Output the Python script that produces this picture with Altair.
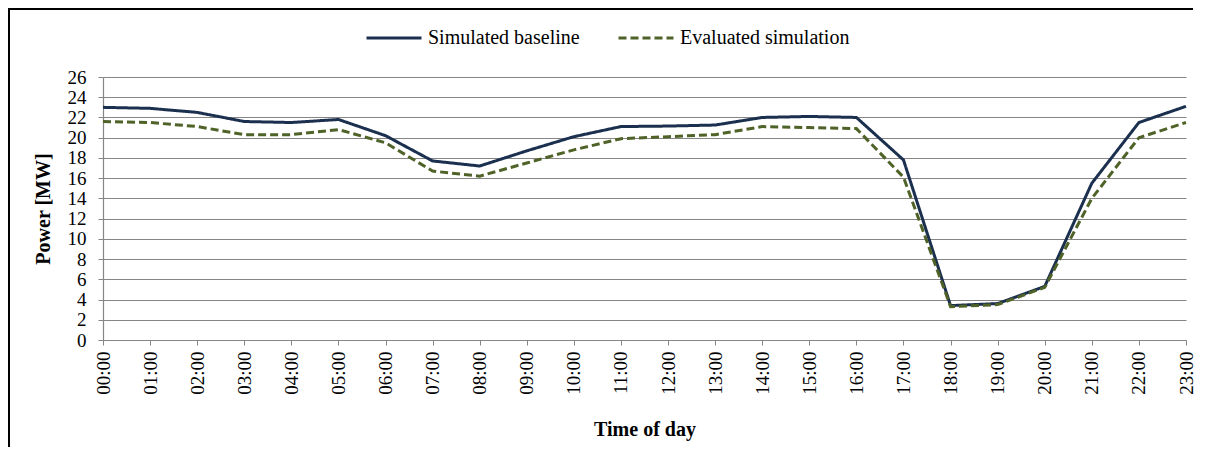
import altair as alt
import pandas as pd

hours = [f"{h:02d}:00" for h in range(24)]
baseline = [23.0, 22.9, 22.5, 21.6, 21.5, 21.8, 20.2, 17.7, 17.2, 18.7, 20.1, 21.1,
            21.15, 21.25, 22.0, 22.1, 22.0, 17.8, 3.4, 3.6, 5.3, 15.5, 21.5, 23.1]
evaluated = [21.6, 21.5, 21.1, 20.3, 20.3, 20.8, 19.5, 16.7, 16.2, 17.5, 18.8, 19.9,
             20.1, 20.3, 21.1, 21.0, 20.9, 16.1, 3.3, 3.5, 5.2, 14.0, 20.0, 21.5]
series_names = ["Simulated baseline", "Evaluated simulation"]
y_ticks = list(range(0, 27, 2))

rows = []
for name, vals in zip(series_names, [baseline, evaluated]):
    for h, v in zip(hours, vals):
        rows.append({"time": h, "power": v, "series": name})
df = pd.DataFrame(rows)

FONT = "Liberation Serif"
W, H = 1083, 263

color_scale = alt.Scale(domain=series_names, range=["#1b2f4e", "#4f6228"])
dash_scale = alt.Scale(domain=series_names, range=[[1, 0], [8, 4]])

x_enc = alt.X("time:O", sort=hours, scale=alt.Scale(type="point", padding=0),
              axis=alt.Axis(title="Time of day", labelAngle=-90, grid=False,
                            titlePadding=25, labelPadding=6, labelFont=FONT,
                            titleFont=FONT, labelFontSize=19, titleFontSize=20))
y_enc = alt.Y("power:Q", scale=alt.Scale(domain=[0, 26], nice=False),
              axis=alt.Axis(title="Power [MW]", values=y_ticks, grid=True,
                            titlePadding=14, labelPadding=12, labelFont=FONT,
                            titleFont=FONT, labelFontSize=19, titleFontSize=20))

legend = alt.Legend(title=None, orient="none", legendX=262, legendY=-68,
                    direction="horizontal", symbolType="stroke", symbolSize=3025,
                    symbolStrokeWidth=3, labelFontSize=20, labelFont=FONT,
                    labelColor="black", columnPadding=32, labelOffset=5,
                    labelLimit=400)

base = alt.Chart(df)
line1 = base.transform_filter(alt.datum.series == series_names[0]).mark_line(strokeWidth=3).encode(
    x=x_enc, y=y_enc,
    color=alt.Color("series:N", scale=color_scale, legend=legend),
    strokeDash=alt.StrokeDash("series:N", scale=dash_scale, legend=legend),
)
line2 = base.transform_filter(alt.datum.series == series_names[1]).mark_line(strokeWidth=3).encode(
    x=x_enc, y=y_enc,
    color=alt.Color("series:N", scale=color_scale, legend=legend),
    strokeDash=alt.StrokeDash("series:N", scale=dash_scale, legend=legend),
)

frame_data = alt.Data(values=[{"a": 1}])
frame_top = alt.Chart(frame_data).mark_rule(color="black", strokeWidth=2).encode(
    x=alt.value(-94), x2=alt.value(1090), y=alt.value(-68))
frame_left = alt.Chart(frame_data).mark_rule(color="black", strokeWidth=2).encode(
    x=alt.value(-94), y=alt.value(-69), y2=alt.value(370))

chart = alt.layer(line1, line2, frame_top, frame_left).properties(
    width=W, height=H,
    autosize=alt.AutoSizeParams(type="none"),
    padding={"left": 95, "top": 69, "right": 11, "bottom": 107},
).configure_view(strokeWidth=0).configure_axis(
    labelFont=FONT, titleFont=FONT, labelFontSize=19, titleFontSize=20,
    labelColor="black", titleColor="black", titleFontWeight="bold",
    domainColor="#868686", gridColor="#868686", tickColor="#868686",
    tickSize=5, domainWidth=1.2, gridWidth=1.2,
)

chart.save("out.html", embed_options={"renderer": "svg", "actions": False})
